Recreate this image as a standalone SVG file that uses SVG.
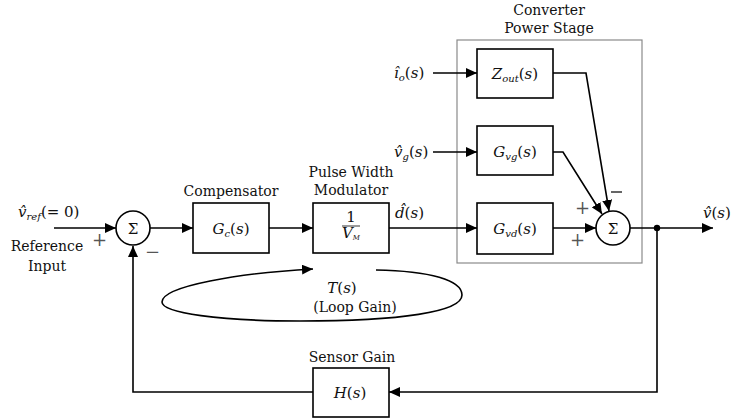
<svg xmlns="http://www.w3.org/2000/svg" width="735" height="419" viewBox="0 0 735 419" font-family="'DejaVu Serif', 'Liberation Serif', serif">
<style>
text{font-family:'DejaVu Serif','Liberation Serif',serif;font-size:15px;fill:#111;}
.m{font-style:italic;}
.c{text-anchor:middle;}
.blk{fill:#fff;stroke:#000;stroke-width:1.6;}
.ln{fill:none;stroke:#000;stroke-width:1.6;}
.pm{font-size:18px;fill:#555;}
.cap{font-size:14px;}
</style>
<defs>
<marker id="ah" markerUnits="userSpaceOnUse" markerWidth="12" markerHeight="10" refX="11" refY="5" orient="auto">
<path d="M0,0 L11,5 L0,10 Z" fill="#000"/>
</marker>
</defs>
<rect x="457" y="40" width="185" height="223" fill="none" stroke="#8a8a8a" stroke-width="1.2"/>
<text class="c cap" x="549" y="15">Converter</text>
<text class="c cap" x="549" y="33">Power Stage</text>

<g id="connectors">
<line class="ln" x1="54" y1="228" x2="116" y2="228" marker-end="url(#ah)"/>
<line class="ln" x1="150" y1="228" x2="193" y2="228" marker-end="url(#ah)"/>
<line class="ln" x1="269" y1="228" x2="313" y2="228" marker-end="url(#ah)"/>
<line class="ln" x1="389" y1="228" x2="477" y2="228" marker-end="url(#ah)"/>
<line class="ln" x1="433" y1="73" x2="477" y2="73" marker-end="url(#ah)"/>
<line class="ln" x1="433" y1="152" x2="477" y2="152" marker-end="url(#ah)"/>
<polyline class="ln" points="553,73 586,73 609,211" marker-end="url(#ah)"/>
<polyline class="ln" points="553,152 563,152 602,214" marker-end="url(#ah)"/>
<line class="ln" x1="553" y1="228" x2="596" y2="228" marker-end="url(#ah)"/>
<line class="ln" x1="630" y1="228" x2="713" y2="228" marker-end="url(#ah)"/>
<circle cx="657" cy="228" r="3.2" fill="#000"/>
<polyline class="ln" points="657,228 657,392 389,392" marker-end="url(#ah)"/>
<polyline class="ln" points="313,392 133,392 133,246" marker-end="url(#ah)"/>
<path class="ln" d="M376,270 C430,271 462,280 462,295 C462,312 400,321 300,321 C220,321 162,313 162,302 C162,286 240,273 313,269" marker-end="url(#ah)"/>
</g>

<g id="input">
<text x="18" y="217"><tspan class="m">v̂</tspan><tspan class="m" font-size="10" dy="3">ref</tspan><tspan dy="-3">(= 0)</tspan></text>
<text class="c cap" x="47" y="251">Reference</text>
<text class="c cap" x="47" y="271">Input</text>
</g>

<g id="sum1">
<circle cx="133" cy="228" r="17" class="blk"/>
<text class="c" x="133" y="234">Σ</text>
<text class="pm" x="92" y="246">+</text>
<text class="pm" x="145" y="258">−</text>
</g>

<g id="compensator">
<text class="c cap" x="231" y="196">Compensator</text>
<rect class="blk" x="193" y="203" width="76" height="50"/>
<text class="c" x="231" y="234"><tspan class="m">G</tspan><tspan class="m" font-size="10" dy="3">c</tspan><tspan dy="-3">(</tspan><tspan class="m">s</tspan>)</text>
</g>

<g id="pwm">
<text class="c cap" x="351" y="177">Pulse Width</text>
<text class="c cap" x="351" y="195">Modulator</text>
<rect class="blk" x="313" y="203" width="76" height="50"/>
<text class="c" x="351" y="222" font-size="10">1</text>
<line x1="342" y1="226" x2="360" y2="226" stroke="#000" stroke-width="0.8"/>
<text class="c" x="351" y="238" font-size="10"><tspan class="m">V</tspan><tspan class="m" font-size="7" dy="2">M</tspan></text>
<text x="395" y="218"><tspan class="m">d̂</tspan>(<tspan class="m">s</tspan>)</text>
</g>

<g id="zout">
<text x="394" y="78"><tspan class="m">î</tspan><tspan class="m" font-size="10" dy="3">o</tspan><tspan dy="-3">(</tspan><tspan class="m">s</tspan>)</text>
<rect class="blk" x="477" y="49" width="76" height="49"/>
<text class="c" x="515" y="79"><tspan class="m">Z</tspan><tspan class="m" font-size="10" dy="3">out</tspan><tspan dy="-3">(</tspan><tspan class="m">s</tspan>)</text>
</g>

<g id="gvg">
<text x="394" y="157"><tspan class="m">v̂</tspan><tspan class="m" font-size="10" dy="3">g</tspan><tspan dy="-3">(</tspan><tspan class="m">s</tspan>)</text>
<rect class="blk" x="477" y="126" width="76" height="49"/>
<text class="c" x="515" y="157"><tspan class="m">G</tspan><tspan class="m" font-size="10" dy="3">vg</tspan><tspan dy="-3">(</tspan><tspan class="m">s</tspan>)</text>
</g>

<g id="gvd">
<rect class="blk" x="477" y="203" width="76" height="51"/>
<text class="c" x="515" y="234"><tspan class="m">G</tspan><tspan class="m" font-size="10" dy="3">vd</tspan><tspan dy="-3">(</tspan><tspan class="m">s</tspan>)</text>
</g>

<g id="sum2">
<circle cx="613" cy="228" r="17" class="blk"/>
<text class="c" x="613" y="234">Σ</text>
<text class="pm" x="575" y="214">+</text>
<text class="pm" x="570" y="246">+</text>
<line x1="611" y1="192" x2="622" y2="192" stroke="#000" stroke-width="1.2"/>
</g>

<g id="output">
<text x="703" y="218"><tspan class="m">v̂</tspan>(<tspan class="m">s</tspan>)</text>
</g>

<g id="sensor">
<text class="c cap" x="352" y="362">Sensor Gain</text>
<rect class="blk" x="313" y="368" width="76" height="49"/>
<text class="c" x="350" y="398"><tspan class="m">H</tspan>(<tspan class="m">s</tspan>)</text>
</g>

<g id="loopgain">
<text class="c" x="342" y="293"><tspan class="m">T</tspan>(<tspan class="m">s</tspan>)</text>
<text class="c cap" x="355" y="312">(Loop Gain)</text>
</g>
</svg>
